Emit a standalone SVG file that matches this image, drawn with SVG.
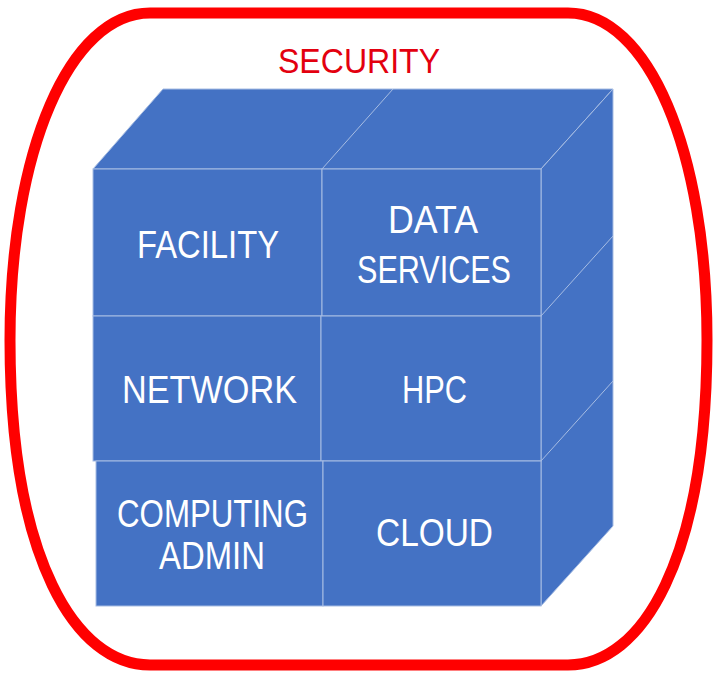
<svg xmlns="http://www.w3.org/2000/svg" width="718" height="679" viewBox="0 0 718 679">
<style>
.face{fill:#4472C4;stroke:#A7BDE3;stroke-width:1}
.lbl{font-family:"Liberation Sans",Arial,sans-serif;font-size:38px;fill:#FFFFFF;text-anchor:middle}
.sec{font-family:"Liberation Sans",Arial,sans-serif;font-size:35px;fill:#E3000F;text-anchor:middle}
</style>
<rect width="718" height="679" fill="#FFFFFF"/>
<g id="security">
<path d="M150,13 L568,13 C648,13 707,150 707,340 C707,560 642,665 568,665 L150,665 C76,665 10,560 10,340 C10,150 70,13 150,13 Z" fill="none" stroke="#FF0000" stroke-width="11"/>
<text class="sec" x="359" y="73" textLength="162" lengthAdjust="spacingAndGlyphs">SECURITY</text>
</g>
<g id="cube-sides">
<polygon class="face" points="93,169 163,89 613,89 541,169"/>
<line x1="322" y1="169" x2="393" y2="89" stroke="#A7BDE3" stroke-width="1"/>
<polygon class="face" points="541,169 613,89 613,526 541,606"/>
<line x1="541" y1="316" x2="613" y2="236" stroke="#A7BDE3" stroke-width="1"/>
<line x1="541" y1="461" x2="613" y2="381" stroke="#A7BDE3" stroke-width="1"/>
</g>
<g id="facility">
<rect class="face" x="93" y="169" width="229" height="147"/>
<text class="lbl" x="208" y="258" textLength="142" lengthAdjust="spacingAndGlyphs">FACILITY</text>
</g>
<g id="data-services">
<rect class="face" x="322" y="169" width="219" height="147"/>
<text class="lbl" x="433" y="233" textLength="90" lengthAdjust="spacingAndGlyphs">DATA</text>
<text class="lbl" x="434" y="283" textLength="154" lengthAdjust="spacingAndGlyphs">SERVICES</text>
</g>
<g id="network">
<rect class="face" x="93" y="316" width="228" height="145"/>
<text class="lbl" x="209.5" y="403" textLength="175" lengthAdjust="spacingAndGlyphs">NETWORK</text>
</g>
<g id="hpc">
<rect class="face" x="321" y="316" width="220" height="145"/>
<text class="lbl" x="434.5" y="403" textLength="65" lengthAdjust="spacingAndGlyphs">HPC</text>
</g>
<g id="computing-admin">
<rect class="face" x="96" y="461" width="227" height="145"/>
<text class="lbl" x="212.5" y="527" textLength="191" lengthAdjust="spacingAndGlyphs">COMPUTING</text>
<text class="lbl" x="212" y="569" textLength="106" lengthAdjust="spacingAndGlyphs">ADMIN</text>
</g>
<g id="cloud">
<rect class="face" x="323" y="461" width="218" height="145"/>
<text class="lbl" x="434.5" y="546" textLength="117" lengthAdjust="spacingAndGlyphs">CLOUD</text>
</g>
</svg>
